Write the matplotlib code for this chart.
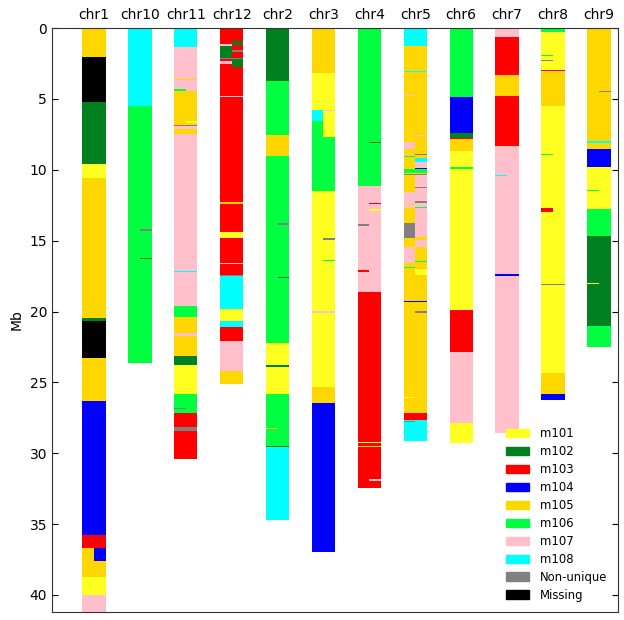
import matplotlib
matplotlib.use('Agg')
import matplotlib.pyplot as plt
from matplotlib.patches import Patch

# chromosome painting: (start Mb, end Mb, source, track)  track F=full, L=left half, R=right half
chroms = ['chr1', 'chr10', 'chr11', 'chr12', 'chr2', 'chr3', 'chr4', 'chr5', 'chr6', 'chr7', 'chr8', 'chr9']
labels = ['m101', 'm102', 'm103', 'm104', 'm105', 'm106', 'm107', 'm108', 'Non-unique', 'Missing']
colours = ['#ffff22', '#00801f', '#ff0000', '#0000ff', '#ffd700', '#00ff40', '#ffc0cb', '#00ffff', '#808080', '#000000']

chr1 = [(0, 2.03, 'm105', 'F'), (2.03, 5.24, 'Missing', 'F'), (5.24, 9.57, 'm102', 'F'),
        (9.57, 10.56, 'm101', 'F'), (10.56, 20.47, 'm105', 'F'), (20.47, 20.66, 'm102', 'F'),
        (20.66, 23.27, 'Missing', 'F'), (23.27, 26.33, 'm105', 'F'), (26.33, 35.77, 'm104', 'F'),
        (35.77, 36.67, 'm103', 'F'), (36.67, 38.7, 'm105', 'F'), (36.67, 37.58, 'm104', 'R'),
        (38.7, 40.03, 'm101', 'F'), (40.03, 41.4, 'm107', 'F')]
chr10 = [(0, 5.47, 'm108', 'F'), (5.47, 23.6, 'm106', 'F'), (14.2, 14.3, 'Non-unique', 'R'),
         (16.2, 16.32, 'm102', 'R')]
chr11 = [(0, 1.31, 'm108', 'F'), (1.31, 19.6, 'm107', 'F'), (3.59, 3.7, 'm105', 'F'),
         (4.32, 4.42, 'm106', 'L'), (4.46, 6.89, 'm105', 'F'), (6.58, 6.68, 'm101', 'R'),
         (6.86, 6.94, 'Non-unique', 'F'), (7.12, 7.5, 'm105', 'F'), (17.12, 17.22, 'm108', 'F'),
         (19.6, 20.36, 'm106', 'F'), (20.36, 21.53, 'm105', 'F'), (21.53, 21.72, 'm107', 'F'),
         (21.72, 23.13, 'm105', 'F'), (23.13, 23.74, 'm102', 'F'), (23.74, 25.81, 'm101', 'F'),
         (25.81, 27.15, 'm106', 'F'), (26.83, 26.91, 'Non-unique', 'L'), (27.15, 28.14, 'm103', 'F'),
         (28.14, 28.42, 'Non-unique', 'F'), (28.42, 30.4, 'm103', 'F')]
chr12 = [(0, 12.27, 'm103', 'F'), (1.1, 1.28, 'm107', 'L'), (0.95, 1.2, 'm102', 'R'),
         (1.55, 1.68, 'Non-unique', 'R'), (1.28, 2.1, 'm102', 'L'), (2.1, 2.22, 'Non-unique', 'F'),
         (2.34, 2.53, 'm107', 'L'), (2.22, 2.77, 'm102', 'R'), (4.77, 4.86, 'm107', 'F'),
         (12.27, 12.38, 'm105', 'F'), (12.38, 14.42, 'm103', 'F'), (14.42, 14.82, 'm101', 'F'),
         (14.82, 17.53, 'm103', 'F'), (16.55, 16.62, 'm107', 'F'), (17.45, 17.53, 'Non-unique', 'F'),
         (17.53, 19.81, 'm108', 'F'), (19.81, 20.66, 'm101', 'F'), (20.66, 21.08, 'm108', 'F'),
         (21.08, 22.07, 'm103', 'F'), (22.07, 24.17, 'm107', 'F'), (24.17, 25.1, 'm105', 'F')]
chr2 = [(0, 3.71, 'm102', 'F'), (3.71, 7.52, 'm106', 'F'), (7.52, 9.05, 'm105', 'F'),
        (9.05, 22.2, 'm106', 'F'), (13.78, 13.9, 'Non-unique', 'R'), (17.55, 17.65, 'm102', 'R'),
        (22.2, 23.79, 'm101', 'F'), (23.79, 23.9, 'm102', 'F'), (23.9, 25.81, 'm101', 'F'),
        (25.81, 29.55, 'm106', 'F'), (28.2, 28.3, 'm105', 'L'), (29.5, 29.58, 'm102', 'F'),
        (29.58, 34.71, 'm108', 'F')]
chr3 = [(0, 3.14, 'm105', 'F'), (3.14, 5.8, 'm101', 'F'), (5.8, 6.53, 'm108', 'L'),
        (6.53, 7.71, 'm106', 'L'), (5.8, 7.71, 'm101', 'R'), (5.75, 5.85, 'm107', 'R'),
        (7.71, 11.48, 'm106', 'F'), (11.48, 25.32, 'm101', 'F'), (14.83, 14.95, 'Non-unique', 'R'),
        (16.4, 16.46, 'm106', 'R'), (19.99, 20.07, 'm107', 'F'), (25.32, 26.47, 'm105', 'F'),
        (26.47, 36.99, 'm104', 'F')]
chr4 = [(0, 11.17, 'm106', 'F'), (8.03, 8.11, 'm102', 'R'), (11.17, 18.59, 'm107', 'F'),
        (12.32, 12.42, 'm103', 'R'), (12.8, 12.88, 'm101', 'R'), (13.85, 13.97, 'Non-unique', 'L'),
        (17.08, 17.22, 'm103', 'L'), (18.59, 32.47, 'm103', 'F'), (29.18, 29.26, 'm101', 'F'),
        (29.52, 29.58, 'm105', 'F'), (31.85, 31.95, 'm107', 'R')]
chr5 = [(0, 1.26, 'm108', 'F'), (1.26, 27.15, 'm105', 'F'), (3.03, 3.11, 'm108', 'F'),
        (4.71, 4.77, 'm107', 'L'), (7.57, 7.65, 'm107', 'R'), (8.04, 8.56, 'm107', 'L'),
        (8.88, 8.94, 'm107', 'L'), (8.92, 8.98, 'Non-unique', 'R'), (9.02, 9.08, 'm106', 'L'),
        (9.2, 9.45, 'm108', 'R'), (9.45, 9.85, 'm107', 'R'), (9.9, 9.97, 'm104', 'R'),
        (9.97, 10.25, 'm106', 'F'), (10.3, 10.36, 'Non-unique', 'F'), (10.36, 14.73, 'm107', 'R'),
        (11.23, 11.29, 'Non-unique', 'R'), (11.4, 11.46, 'Non-unique', 'R'), (11.54, 11.6, 'Non-unique', 'R'),
        (11.82, 11.88, 'm106', 'R'), (11.57, 12.4, 'm107', 'L'), (12.2, 12.37, 'Non-unique', 'R'),
        (12.52, 12.68, 'm107', 'L'), (12.66, 12.71, 'm106', 'R'), (12.89, 12.94, 'm106', 'R'),
        (13.73, 14.78, 'Non-unique', 'L'), (14.94, 15.42, 'm107', 'R'), (15.42, 16.56, 'm107', 'L'),
        (16.46, 16.52, 'm106', 'R'), (16.88, 16.94, 'm106', 'L'), (16.98, 17.45, 'm101', 'R'),
        (19.25, 19.35, 'm104', 'F'), (19.96, 20.08, 'Non-unique', 'R'), (26.02, 26.08, 'm101', 'L'),
        (27.15, 27.67, 'm103', 'F'), (27.67, 29.14, 'm108', 'F'), (27.7, 27.76, 'Non-unique', 'L')]
chr6 = [(0, 4.89, 'm106', 'F'), (4.89, 7.43, 'm104', 'F'), (7.43, 7.83, 'm102', 'F'),
        (7.78, 7.85, 'm103', 'F'), (7.85, 8.7, 'm105', 'F'), (8.7, 9.8, 'm101', 'F'),
        (9.8, 9.95, 'm106', 'F'), (9.95, 19.9, 'm101', 'F'), (19.9, 22.85, 'm103', 'F'),
        (22.85, 27.88, 'm107', 'F'), (27.88, 29.29, 'm101', 'F')]
chr7 = [(0, 0.62, 'm107', 'F'), (0.62, 3.33, 'm103', 'F'), (3.33, 4.79, 'm105', 'F'),
        (4.79, 8.3, 'm103', 'F'), (8.3, 28.6, 'm107', 'F'), (10.4, 10.47, 'm108', 'L'),
        (17.33, 17.5, 'm104', 'F')]
chr8 = [(0, 0.3, 'm106', 'F'), (0.3, 3.02, 'm101', 'F'), (1.91, 1.97, 'm106', 'L'),
        (2.29, 2.35, 'Non-unique', 'L'), (2.98, 3.06, 'm103', 'F'), (3.06, 5.47, 'm105', 'F'),
        (5.47, 24.33, 'm101', 'F'), (8.9, 8.97, 'm106', 'L'), (12.7, 12.95, 'm103', 'L'),
        (18.04, 18.1, 'Non-unique', 'F'), (24.33, 25.81, 'm105', 'F'), (25.81, 26.25, 'm104', 'F')]
chr9 = [(0, 7.97, 'm105', 'F'), (4.47, 4.53, 'Non-unique', 'R'), (7.97, 8.1, 'm108', 'F'),
        (8.1, 8.56, 'm105', 'F'), (8.56, 9.83, 'm104', 'F'), (9.83, 12.75, 'm101', 'F'),
        (11.4, 11.5, 'm106', 'L'), (12.75, 14.65, 'm106', 'F'), (14.65, 21.03, 'm102', 'F'),
        (17.97, 18.03, 'm101', 'L'), (21.03, 22.51, 'm106', 'F')]

painting = [chr1, chr10, chr11, chr12, chr2, chr3, chr4, chr5, chr6, chr7, chr8, chr9]
cmap = dict(zip(labels, colours))
W = 0.51

fig = plt.figure(figsize=(6.24, 6.2), dpi=100)
ax = fig.add_axes([0.0833, 0.0129, 0.9063, 0.9419])

for i, segs in enumerate(painting):
    for start, end, lab, trk in segs:
        if trk == 'F':
            x0, w = i, W
        elif trk == 'L':
            x0, w = i, W / 2
        else:
            x0, w = i + W / 2, W / 2
        ax.bar(x0, end - start, bottom=start, width=w, align='edge',
               color=cmap[lab], linewidth=0)

ax.set_xlim(-0.66, 11.66)
ax.set_ylim(41.2, 0)
ax.set_yticks(range(0, 41, 5))
ax.tick_params(axis='y', direction='in', right=True, length=4, labelsize=10)
ax.set_xticks([i + W / 2 for i in range(len(chroms))])
ax.set_xticklabels(chroms, fontsize=10)
ax.tick_params(axis='x', top=True, bottom=False, labeltop=True, labelbottom=False, length=0, pad=4)
ax.set_ylabel('Mb', fontsize=10)
for s in ax.spines.values():
    s.set_color('#333333')

handles = [Patch(color=c, label=l) for l, c in zip(labels, colours)]
ax.legend(handles=handles, loc='lower right', frameon=False, fontsize=8.4,
          labelspacing=0.42, handletextpad=0.9)

fig.savefig('out.png', dpi=100, facecolor='white')
